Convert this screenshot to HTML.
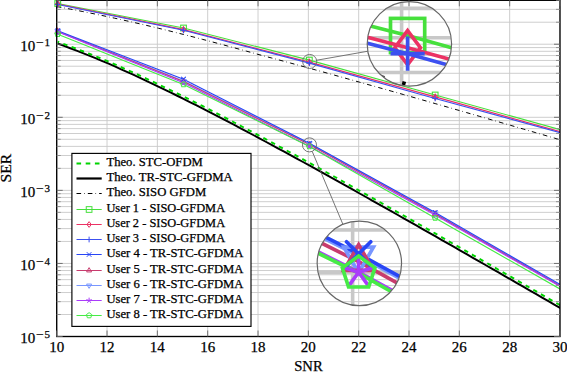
<!DOCTYPE html>
<html><head><meta charset="utf-8"><style>
html,body{margin:0;padding:0;background:#fff;}
svg{display:block;}
text{font-family:"Liberation Serif",serif;fill:#000;stroke:#000;stroke-width:0.25px;}
</style></head><body>
<svg width="567" height="372" viewBox="0 0 567 372">
<defs><g id="content_inset">
<line x1="56.70" y1="0.30" x2="56.70" y2="336.50" stroke="#c8c8c8" stroke-width="0.60"/>
<line x1="107.03" y1="0.30" x2="107.03" y2="336.50" stroke="#c8c8c8" stroke-width="0.60"/>
<line x1="157.36" y1="0.30" x2="157.36" y2="336.50" stroke="#c8c8c8" stroke-width="0.60"/>
<line x1="207.69" y1="0.30" x2="207.69" y2="336.50" stroke="#c8c8c8" stroke-width="0.60"/>
<line x1="258.02" y1="0.30" x2="258.02" y2="336.50" stroke="#c8c8c8" stroke-width="0.60"/>
<line x1="308.35" y1="0.30" x2="308.35" y2="336.50" stroke="#c8c8c8" stroke-width="0.60"/>
<line x1="358.68" y1="0.30" x2="358.68" y2="336.50" stroke="#c8c8c8" stroke-width="0.60"/>
<line x1="409.01" y1="0.30" x2="409.01" y2="336.50" stroke="#c8c8c8" stroke-width="0.60"/>
<line x1="459.34" y1="0.30" x2="459.34" y2="336.50" stroke="#c8c8c8" stroke-width="0.60"/>
<line x1="509.67" y1="0.30" x2="509.67" y2="336.50" stroke="#c8c8c8" stroke-width="0.60"/>
<line x1="560.00" y1="0.30" x2="560.00" y2="336.50" stroke="#c8c8c8" stroke-width="0.60"/>
<line x1="56.70" y1="336.51" x2="560.00" y2="336.51" stroke="#c8c8c8" stroke-width="0.60"/>
<line x1="56.70" y1="314.51" x2="560.00" y2="314.51" stroke="#c8c8c8" stroke-width="0.60"/>
<line x1="56.70" y1="301.65" x2="560.00" y2="301.65" stroke="#c8c8c8" stroke-width="0.60"/>
<line x1="56.70" y1="292.52" x2="560.00" y2="292.52" stroke="#c8c8c8" stroke-width="0.60"/>
<line x1="56.70" y1="285.44" x2="560.00" y2="285.44" stroke="#c8c8c8" stroke-width="0.60"/>
<line x1="56.70" y1="279.65" x2="560.00" y2="279.65" stroke="#c8c8c8" stroke-width="0.60"/>
<line x1="56.70" y1="274.76" x2="560.00" y2="274.76" stroke="#c8c8c8" stroke-width="0.60"/>
<line x1="56.70" y1="270.52" x2="560.00" y2="270.52" stroke="#c8c8c8" stroke-width="0.60"/>
<line x1="56.70" y1="266.78" x2="560.00" y2="266.78" stroke="#c8c8c8" stroke-width="0.60"/>
<line x1="56.70" y1="263.44" x2="560.00" y2="263.44" stroke="#c8c8c8" stroke-width="0.60"/>
<line x1="56.70" y1="241.44" x2="560.00" y2="241.44" stroke="#c8c8c8" stroke-width="0.60"/>
<line x1="56.70" y1="228.58" x2="560.00" y2="228.58" stroke="#c8c8c8" stroke-width="0.60"/>
<line x1="56.70" y1="219.45" x2="560.00" y2="219.45" stroke="#c8c8c8" stroke-width="0.60"/>
<line x1="56.70" y1="212.37" x2="560.00" y2="212.37" stroke="#c8c8c8" stroke-width="0.60"/>
<line x1="56.70" y1="206.58" x2="560.00" y2="206.58" stroke="#c8c8c8" stroke-width="0.60"/>
<line x1="56.70" y1="201.69" x2="560.00" y2="201.69" stroke="#c8c8c8" stroke-width="0.60"/>
<line x1="56.70" y1="197.45" x2="560.00" y2="197.45" stroke="#c8c8c8" stroke-width="0.60"/>
<line x1="56.70" y1="193.71" x2="560.00" y2="193.71" stroke="#c8c8c8" stroke-width="0.60"/>
<line x1="56.70" y1="190.37" x2="560.00" y2="190.37" stroke="#c8c8c8" stroke-width="0.60"/>
<line x1="56.70" y1="168.37" x2="560.00" y2="168.37" stroke="#c8c8c8" stroke-width="0.60"/>
<line x1="56.70" y1="155.51" x2="560.00" y2="155.51" stroke="#c8c8c8" stroke-width="0.60"/>
<line x1="56.70" y1="146.38" x2="560.00" y2="146.38" stroke="#c8c8c8" stroke-width="0.60"/>
<line x1="56.70" y1="139.30" x2="560.00" y2="139.30" stroke="#c8c8c8" stroke-width="0.60"/>
<line x1="56.70" y1="133.51" x2="560.00" y2="133.51" stroke="#c8c8c8" stroke-width="0.60"/>
<line x1="56.70" y1="128.62" x2="560.00" y2="128.62" stroke="#c8c8c8" stroke-width="0.60"/>
<line x1="56.70" y1="124.38" x2="560.00" y2="124.38" stroke="#c8c8c8" stroke-width="0.60"/>
<line x1="56.70" y1="120.64" x2="560.00" y2="120.64" stroke="#c8c8c8" stroke-width="0.60"/>
<line x1="56.70" y1="117.30" x2="560.00" y2="117.30" stroke="#c8c8c8" stroke-width="0.60"/>
<line x1="56.70" y1="95.30" x2="560.00" y2="95.30" stroke="#c8c8c8" stroke-width="0.60"/>
<line x1="56.70" y1="82.44" x2="560.00" y2="82.44" stroke="#c8c8c8" stroke-width="0.60"/>
<line x1="56.70" y1="73.31" x2="560.00" y2="73.31" stroke="#c8c8c8" stroke-width="0.60"/>
<line x1="56.70" y1="66.23" x2="560.00" y2="66.23" stroke="#c8c8c8" stroke-width="0.60"/>
<line x1="56.70" y1="60.44" x2="560.00" y2="60.44" stroke="#c8c8c8" stroke-width="0.60"/>
<line x1="56.70" y1="55.55" x2="560.00" y2="55.55" stroke="#c8c8c8" stroke-width="0.60"/>
<line x1="56.70" y1="51.31" x2="560.00" y2="51.31" stroke="#c8c8c8" stroke-width="0.60"/>
<line x1="56.70" y1="47.57" x2="560.00" y2="47.57" stroke="#c8c8c8" stroke-width="0.60"/>
<line x1="56.70" y1="44.23" x2="560.00" y2="44.23" stroke="#c8c8c8" stroke-width="0.60"/>
<line x1="56.70" y1="22.23" x2="560.00" y2="22.23" stroke="#c8c8c8" stroke-width="0.60"/>
<line x1="56.70" y1="9.37" x2="560.00" y2="9.37" stroke="#c8c8c8" stroke-width="0.60"/>
<line x1="56.70" y1="0.24" x2="560.00" y2="0.24" stroke="#c8c8c8" stroke-width="0.60"/>
<path d="M57.70,43.51 L63.99,45.85 L70.28,48.23 L76.57,50.66 L82.87,53.14 L89.16,55.66 L95.45,58.22 L101.74,60.82 L108.03,63.46 L114.32,66.22 L120.61,69.02 L126.90,71.85 L133.19,74.73 L139.49,77.63 L145.78,80.58 L152.07,83.55 L158.36,86.56 L164.65,89.59 L170.94,92.66 L177.23,95.75 L183.52,98.87 L189.82,102.02 L196.11,105.19 L202.40,108.39 L208.69,111.61 L214.98,114.86 L221.27,118.12 L227.56,121.41 L233.86,124.72 L240.15,128.05 L246.44,131.40 L252.73,134.76 L259.02,138.14 L265.31,141.51 L271.60,144.89 L277.89,148.29 L284.19,151.70 L290.48,155.12 L296.77,158.55 L303.06,162.00 L309.35,165.46 L315.64,168.93 L321.93,172.41 L328.22,175.90 L334.51,179.40 L340.81,182.91 L347.10,186.43 L353.39,189.95 L359.68,193.49 L365.97,197.01 L372.26,200.55 L378.55,204.09 L384.84,207.64 L391.14,211.19 L397.43,214.75 L403.72,218.31 L410.01,221.88 L416.30,225.45 L422.59,229.03 L428.88,232.61 L435.17,236.19 L441.47,239.78 L447.76,243.38 L454.05,246.97 L460.34,250.57 L466.63,254.17 L472.92,257.78 L479.21,261.39 L485.50,265.00 L491.80,268.61 L498.09,272.22 L504.38,275.84 L510.67,279.46 L516.96,283.08 L523.25,286.70 L529.54,290.33 L535.84,293.95 L542.13,297.58 L548.42,301.21 L554.71,304.84 L561.00,308.47" fill="none" stroke="#000" stroke-width="2.00"/>
<path d="M57.70,41.75 L63.99,44.05 L70.28,46.40 L76.57,48.79 L82.87,51.23 L89.16,53.72 L95.45,56.25 L101.74,58.82 L108.03,61.43 L114.32,64.16 L120.61,66.93 L126.90,69.73 L133.19,72.58 L139.49,75.46 L145.78,78.37 L152.07,81.32 L158.36,84.31 L164.65,87.32 L170.94,90.36 L177.23,93.43 L183.52,96.53 L189.82,99.65 L196.11,102.81 L202.40,105.99 L208.69,109.19 L214.98,112.42 L221.27,115.67 L227.56,118.94 L233.86,122.24 L240.15,125.55 L246.44,128.88 L252.73,132.23 L259.02,135.60 L265.31,138.96 L271.60,142.33 L277.89,145.71 L284.19,149.11 L290.48,152.53 L296.77,155.95 L303.06,159.39 L309.35,162.84 L315.64,166.30 L321.93,169.78 L328.22,173.26 L334.51,176.75 L340.81,180.25 L347.10,183.77 L353.39,187.28 L359.68,190.81 L365.97,194.33 L372.26,197.86 L378.55,201.40 L384.84,204.94 L391.14,208.49 L397.43,212.04 L403.72,215.60 L410.01,219.17 L416.30,222.74 L422.59,226.31 L428.88,229.89 L435.17,233.47 L441.47,237.06 L447.76,240.65 L454.05,244.24 L460.34,247.84 L466.63,251.44 L472.92,255.04 L479.21,258.64 L485.50,262.25 L491.80,265.86 L498.09,269.48 L504.38,273.09 L510.67,276.71 L516.96,280.33 L523.25,283.95 L529.54,287.57 L535.84,291.20 L542.13,294.82 L548.42,298.45 L554.71,302.08 L561.00,305.71" fill="none" stroke="#00d400" stroke-width="2.00" stroke-dasharray="4.425 4.425" stroke-dashoffset="2.89"/>
<path d="M57.70,6.72 L63.99,7.89 L70.28,9.09 L76.57,10.31 L82.87,11.55 L89.16,12.82 L95.45,14.11 L101.74,15.42 L108.03,16.76 L114.32,18.11 L120.61,19.49 L126.90,20.90 L133.19,22.32 L139.49,23.76 L145.78,25.23 L152.07,26.71 L158.36,28.21 L164.65,29.75 L170.94,31.30 L177.23,32.87 L183.52,34.46 L189.82,36.06 L196.11,37.68 L202.40,39.32 L208.69,40.97 L214.98,42.63 L221.27,44.31 L227.56,46.00 L233.86,47.71 L240.15,49.42 L246.44,51.15 L252.73,52.89 L259.02,54.64 L265.31,56.31 L271.60,57.98 L277.89,59.66 L284.19,61.35 L290.48,63.05 L296.77,64.76 L303.06,66.47 L309.35,68.20 L315.64,69.93 L321.93,71.66 L328.22,73.41 L334.51,75.16 L340.81,76.92 L347.10,78.68 L353.39,80.44 L359.68,82.22 L365.97,83.98 L372.26,85.74 L378.55,87.51 L384.84,89.28 L391.14,91.05 L397.43,92.83 L403.72,94.62 L410.01,96.40 L416.30,98.19 L422.59,99.98 L428.88,101.78 L435.17,103.58 L441.47,105.38 L447.76,107.18 L454.05,108.99 L460.34,110.80 L466.63,112.61 L472.92,114.43 L479.21,116.25 L485.50,118.07 L491.80,119.89 L498.09,121.72 L504.38,123.55 L510.67,125.37 L516.96,127.20 L523.25,129.03 L529.54,130.86 L535.84,132.70 L542.13,134.53 L548.42,136.36 L554.71,138.20 L561.00,140.04" fill="none" stroke="#000" stroke-width="0.61" stroke-dasharray="4.65 3.09 0.6 3.09" stroke-dashoffset="1.0"/>
<path d="M57.70,3.50 L183.52,28.00 L309.35,60.07 L435.17,95.00 L561.00,129.90" fill="none" stroke="#46e03c" stroke-width="0.61"/>
<rect x="54.85" y="0.65" width="5.70" height="5.70" fill="none" stroke="#46e03c" stroke-width="0.61"/>
<rect x="180.67" y="25.15" width="5.70" height="5.70" fill="none" stroke="#46e03c" stroke-width="0.61"/>
<rect x="306.50" y="57.22" width="5.70" height="5.70" fill="none" stroke="#46e03c" stroke-width="0.61"/>
<rect x="432.32" y="92.15" width="5.70" height="5.70" fill="none" stroke="#46e03c" stroke-width="0.61"/>
<path d="M57.70,4.00 L183.52,29.60 L309.35,62.10 L435.17,96.90 L561.00,131.90" fill="none" stroke="#eb3264" stroke-width="0.61"/>
<path d="M57.70,1.15 L59.84,4.00 L57.70,6.85 L55.56,4.00 Z" fill="none" stroke="#eb3264" stroke-width="0.61"/>
<path d="M183.52,26.75 L185.66,29.60 L183.52,32.45 L181.39,29.60 Z" fill="none" stroke="#eb3264" stroke-width="0.61"/>
<path d="M309.35,59.25 L311.49,62.10 L309.35,64.95 L307.21,62.10 Z" fill="none" stroke="#eb3264" stroke-width="0.61"/>
<path d="M435.17,94.05 L437.31,96.90 L435.17,99.75 L433.04,96.90 Z" fill="none" stroke="#eb3264" stroke-width="0.61"/>
<path d="M57.70,4.50 L183.52,30.30 L309.35,63.10 L435.17,98.50 L561.00,132.90" fill="none" stroke="#3c50f0" stroke-width="0.61"/>
<path d="M54.85,4.50 L60.55,4.50 M57.70,1.65 L57.70,7.35" fill="none" stroke="#3c50f0" stroke-width="0.61"/>
<path d="M180.67,30.30 L186.37,30.30 M183.52,27.45 L183.52,33.15" fill="none" stroke="#3c50f0" stroke-width="0.61"/>
<path d="M306.50,63.10 L312.20,63.10 M309.35,60.25 L309.35,65.95" fill="none" stroke="#3c50f0" stroke-width="0.61"/>
<path d="M432.32,98.50 L438.02,98.50 M435.17,95.65 L435.17,101.35" fill="none" stroke="#3c50f0" stroke-width="0.61"/>
<path d="M57.70,31.20 L183.52,81.00 L309.35,143.60 L435.17,213.40 L561.00,285.90" fill="none" stroke="#7896ff" stroke-width="0.61"/>
<path d="M57.70,31.50 L183.52,81.50 L309.35,144.60 L435.17,214.00 L561.00,286.50" fill="none" stroke="#c83c6e" stroke-width="0.61"/>
<path d="M57.70,30.80 L183.52,79.20 L309.35,143.30 L435.17,212.50 L561.00,285.00" fill="none" stroke="#2846f5" stroke-width="0.61"/>
<path d="M57.70,31.80 L183.52,82.80 L309.35,146.35 L435.17,215.00 L561.00,287.00" fill="none" stroke="#aa3cfa" stroke-width="0.61"/>
<path d="M57.70,34.20 L183.52,84.50 L309.35,146.50 L435.17,218.00 L561.00,289.60" fill="none" stroke="#46eb46" stroke-width="0.61"/>
<path d="M57.70,34.05 L60.17,29.77 L55.23,29.77 Z" fill="none" stroke="#7896ff" stroke-width="0.61"/>
<path d="M183.52,83.85 L185.99,79.58 L181.06,79.58 Z" fill="none" stroke="#7896ff" stroke-width="0.61"/>
<path d="M309.35,146.45 L311.82,142.17 L306.88,142.17 Z" fill="none" stroke="#7896ff" stroke-width="0.61"/>
<path d="M435.17,216.25 L437.64,211.97 L432.71,211.97 Z" fill="none" stroke="#7896ff" stroke-width="0.61"/>
<path d="M57.70,28.65 L60.17,32.92 L55.23,32.92 Z" fill="none" stroke="#c83c6e" stroke-width="0.61"/>
<path d="M183.52,78.65 L185.99,82.92 L181.06,82.92 Z" fill="none" stroke="#c83c6e" stroke-width="0.61"/>
<path d="M309.35,141.75 L311.82,146.03 L306.88,146.03 Z" fill="none" stroke="#c83c6e" stroke-width="0.61"/>
<path d="M435.17,211.15 L437.64,215.43 L432.71,215.43 Z" fill="none" stroke="#c83c6e" stroke-width="0.61"/>
<path d="M55.68,28.78 L59.72,32.82 M55.68,32.82 L59.72,28.78" stroke-linecap="round" fill="none" stroke="#2846f5" stroke-width="0.61"/>
<path d="M181.51,77.18 L185.54,81.22 M181.51,81.22 L185.54,77.18" stroke-linecap="round" fill="none" stroke="#2846f5" stroke-width="0.61"/>
<path d="M307.33,141.28 L311.37,145.32 M307.33,145.32 L311.37,141.28" stroke-linecap="round" fill="none" stroke="#2846f5" stroke-width="0.61"/>
<path d="M433.16,210.48 L437.19,214.52 M433.16,214.52 L437.19,210.48" stroke-linecap="round" fill="none" stroke="#2846f5" stroke-width="0.61"/>
<path d="M57.70,31.80 L57.70,28.95 M57.70,31.80 L60.41,30.92 M57.70,31.80 L59.38,34.11 M57.70,31.80 L56.02,34.11 M57.70,31.80 L54.99,30.92 " fill="none" stroke="#aa3cfa" stroke-width="0.61"/>
<path d="M183.52,82.80 L183.52,79.95 M183.52,82.80 L186.24,81.92 M183.52,82.80 L185.20,85.11 M183.52,82.80 L181.85,85.11 M183.52,82.80 L180.81,81.92 " fill="none" stroke="#aa3cfa" stroke-width="0.61"/>
<path d="M309.35,146.35 L309.35,143.50 M309.35,146.35 L312.06,145.47 M309.35,146.35 L311.03,148.66 M309.35,146.35 L307.67,148.66 M309.35,146.35 L306.64,145.47 " fill="none" stroke="#aa3cfa" stroke-width="0.61"/>
<path d="M435.17,215.00 L435.17,212.15 M435.17,215.00 L437.89,214.12 M435.17,215.00 L436.85,217.31 M435.17,215.00 L433.50,217.31 M435.17,215.00 L432.46,214.12 " fill="none" stroke="#aa3cfa" stroke-width="0.61"/>
<path d="M57.70,31.35 L60.41,33.32 L59.38,36.51 L56.02,36.51 L54.99,33.32 Z" fill="none" stroke="#46eb46" stroke-width="0.61"/>
<path d="M183.52,81.65 L186.24,83.62 L185.20,86.81 L181.85,86.81 L180.81,83.62 Z" fill="none" stroke="#46eb46" stroke-width="0.61"/>
<path d="M309.35,143.65 L312.06,145.62 L311.03,148.81 L307.67,148.81 L306.64,145.62 Z" fill="none" stroke="#46eb46" stroke-width="0.61"/>
<path d="M435.17,215.15 L437.89,217.12 L436.85,220.31 L433.50,220.31 L432.46,217.12 Z" fill="none" stroke="#46eb46" stroke-width="0.61"/>
</g><clipPath id="plotclip"><rect x="56.70" y="0.30" width="503.30" height="336.20"/></clipPath></defs>
<rect width="567" height="372" fill="#fff"/>
<g clip-path="url(#plotclip)">
<g id="content">
<line x1="56.70" y1="0.30" x2="56.70" y2="336.50" stroke="#c8c8c8" stroke-width="0.90"/>
<line x1="107.03" y1="0.30" x2="107.03" y2="336.50" stroke="#c8c8c8" stroke-width="0.90"/>
<line x1="157.36" y1="0.30" x2="157.36" y2="336.50" stroke="#c8c8c8" stroke-width="0.90"/>
<line x1="207.69" y1="0.30" x2="207.69" y2="336.50" stroke="#c8c8c8" stroke-width="0.90"/>
<line x1="258.02" y1="0.30" x2="258.02" y2="336.50" stroke="#c8c8c8" stroke-width="0.90"/>
<line x1="308.35" y1="0.30" x2="308.35" y2="336.50" stroke="#c8c8c8" stroke-width="0.90"/>
<line x1="358.68" y1="0.30" x2="358.68" y2="336.50" stroke="#c8c8c8" stroke-width="0.90"/>
<line x1="409.01" y1="0.30" x2="409.01" y2="336.50" stroke="#c8c8c8" stroke-width="0.90"/>
<line x1="459.34" y1="0.30" x2="459.34" y2="336.50" stroke="#c8c8c8" stroke-width="0.90"/>
<line x1="509.67" y1="0.30" x2="509.67" y2="336.50" stroke="#c8c8c8" stroke-width="0.90"/>
<line x1="560.00" y1="0.30" x2="560.00" y2="336.50" stroke="#c8c8c8" stroke-width="0.90"/>
<line x1="56.70" y1="336.51" x2="560.00" y2="336.51" stroke="#c8c8c8" stroke-width="0.90"/>
<line x1="56.70" y1="314.51" x2="560.00" y2="314.51" stroke="#c8c8c8" stroke-width="0.90"/>
<line x1="56.70" y1="301.65" x2="560.00" y2="301.65" stroke="#c8c8c8" stroke-width="0.90"/>
<line x1="56.70" y1="292.52" x2="560.00" y2="292.52" stroke="#c8c8c8" stroke-width="0.90"/>
<line x1="56.70" y1="285.44" x2="560.00" y2="285.44" stroke="#c8c8c8" stroke-width="0.90"/>
<line x1="56.70" y1="279.65" x2="560.00" y2="279.65" stroke="#c8c8c8" stroke-width="0.90"/>
<line x1="56.70" y1="274.76" x2="560.00" y2="274.76" stroke="#c8c8c8" stroke-width="0.90"/>
<line x1="56.70" y1="270.52" x2="560.00" y2="270.52" stroke="#c8c8c8" stroke-width="0.90"/>
<line x1="56.70" y1="266.78" x2="560.00" y2="266.78" stroke="#c8c8c8" stroke-width="0.90"/>
<line x1="56.70" y1="263.44" x2="560.00" y2="263.44" stroke="#c8c8c8" stroke-width="0.90"/>
<line x1="56.70" y1="241.44" x2="560.00" y2="241.44" stroke="#c8c8c8" stroke-width="0.90"/>
<line x1="56.70" y1="228.58" x2="560.00" y2="228.58" stroke="#c8c8c8" stroke-width="0.90"/>
<line x1="56.70" y1="219.45" x2="560.00" y2="219.45" stroke="#c8c8c8" stroke-width="0.90"/>
<line x1="56.70" y1="212.37" x2="560.00" y2="212.37" stroke="#c8c8c8" stroke-width="0.90"/>
<line x1="56.70" y1="206.58" x2="560.00" y2="206.58" stroke="#c8c8c8" stroke-width="0.90"/>
<line x1="56.70" y1="201.69" x2="560.00" y2="201.69" stroke="#c8c8c8" stroke-width="0.90"/>
<line x1="56.70" y1="197.45" x2="560.00" y2="197.45" stroke="#c8c8c8" stroke-width="0.90"/>
<line x1="56.70" y1="193.71" x2="560.00" y2="193.71" stroke="#c8c8c8" stroke-width="0.90"/>
<line x1="56.70" y1="190.37" x2="560.00" y2="190.37" stroke="#c8c8c8" stroke-width="0.90"/>
<line x1="56.70" y1="168.37" x2="560.00" y2="168.37" stroke="#c8c8c8" stroke-width="0.90"/>
<line x1="56.70" y1="155.51" x2="560.00" y2="155.51" stroke="#c8c8c8" stroke-width="0.90"/>
<line x1="56.70" y1="146.38" x2="560.00" y2="146.38" stroke="#c8c8c8" stroke-width="0.90"/>
<line x1="56.70" y1="139.30" x2="560.00" y2="139.30" stroke="#c8c8c8" stroke-width="0.90"/>
<line x1="56.70" y1="133.51" x2="560.00" y2="133.51" stroke="#c8c8c8" stroke-width="0.90"/>
<line x1="56.70" y1="128.62" x2="560.00" y2="128.62" stroke="#c8c8c8" stroke-width="0.90"/>
<line x1="56.70" y1="124.38" x2="560.00" y2="124.38" stroke="#c8c8c8" stroke-width="0.90"/>
<line x1="56.70" y1="120.64" x2="560.00" y2="120.64" stroke="#c8c8c8" stroke-width="0.90"/>
<line x1="56.70" y1="117.30" x2="560.00" y2="117.30" stroke="#c8c8c8" stroke-width="0.90"/>
<line x1="56.70" y1="95.30" x2="560.00" y2="95.30" stroke="#c8c8c8" stroke-width="0.90"/>
<line x1="56.70" y1="82.44" x2="560.00" y2="82.44" stroke="#c8c8c8" stroke-width="0.90"/>
<line x1="56.70" y1="73.31" x2="560.00" y2="73.31" stroke="#c8c8c8" stroke-width="0.90"/>
<line x1="56.70" y1="66.23" x2="560.00" y2="66.23" stroke="#c8c8c8" stroke-width="0.90"/>
<line x1="56.70" y1="60.44" x2="560.00" y2="60.44" stroke="#c8c8c8" stroke-width="0.90"/>
<line x1="56.70" y1="55.55" x2="560.00" y2="55.55" stroke="#c8c8c8" stroke-width="0.90"/>
<line x1="56.70" y1="51.31" x2="560.00" y2="51.31" stroke="#c8c8c8" stroke-width="0.90"/>
<line x1="56.70" y1="47.57" x2="560.00" y2="47.57" stroke="#c8c8c8" stroke-width="0.90"/>
<line x1="56.70" y1="44.23" x2="560.00" y2="44.23" stroke="#c8c8c8" stroke-width="0.90"/>
<line x1="56.70" y1="22.23" x2="560.00" y2="22.23" stroke="#c8c8c8" stroke-width="0.90"/>
<line x1="56.70" y1="9.37" x2="560.00" y2="9.37" stroke="#c8c8c8" stroke-width="0.90"/>
<line x1="56.70" y1="0.24" x2="560.00" y2="0.24" stroke="#c8c8c8" stroke-width="0.90"/>
<path d="M57.70,43.51 L63.99,45.85 L70.28,48.23 L76.57,50.66 L82.87,53.14 L89.16,55.66 L95.45,58.22 L101.74,60.82 L108.03,63.46 L114.32,66.22 L120.61,69.02 L126.90,71.85 L133.19,74.73 L139.49,77.63 L145.78,80.58 L152.07,83.55 L158.36,86.56 L164.65,89.59 L170.94,92.66 L177.23,95.75 L183.52,98.87 L189.82,102.02 L196.11,105.19 L202.40,108.39 L208.69,111.61 L214.98,114.86 L221.27,118.12 L227.56,121.41 L233.86,124.72 L240.15,128.05 L246.44,131.40 L252.73,134.76 L259.02,138.14 L265.31,141.51 L271.60,144.89 L277.89,148.29 L284.19,151.70 L290.48,155.12 L296.77,158.55 L303.06,162.00 L309.35,165.46 L315.64,168.93 L321.93,172.41 L328.22,175.90 L334.51,179.40 L340.81,182.91 L347.10,186.43 L353.39,189.95 L359.68,193.49 L365.97,197.01 L372.26,200.55 L378.55,204.09 L384.84,207.64 L391.14,211.19 L397.43,214.75 L403.72,218.31 L410.01,221.88 L416.30,225.45 L422.59,229.03 L428.88,232.61 L435.17,236.19 L441.47,239.78 L447.76,243.38 L454.05,246.97 L460.34,250.57 L466.63,254.17 L472.92,257.78 L479.21,261.39 L485.50,265.00 L491.80,268.61 L498.09,272.22 L504.38,275.84 L510.67,279.46 L516.96,283.08 L523.25,286.70 L529.54,290.33 L535.84,293.95 L542.13,297.58 L548.42,301.21 L554.71,304.84 L561.00,308.47" fill="none" stroke="#000" stroke-width="1.95"/>
<path d="M57.70,41.75 L63.99,44.05 L70.28,46.40 L76.57,48.79 L82.87,51.23 L89.16,53.72 L95.45,56.25 L101.74,58.82 L108.03,61.43 L114.32,64.16 L120.61,66.93 L126.90,69.73 L133.19,72.58 L139.49,75.46 L145.78,78.37 L152.07,81.32 L158.36,84.31 L164.65,87.32 L170.94,90.36 L177.23,93.43 L183.52,96.53 L189.82,99.65 L196.11,102.81 L202.40,105.99 L208.69,109.19 L214.98,112.42 L221.27,115.67 L227.56,118.94 L233.86,122.24 L240.15,125.55 L246.44,128.88 L252.73,132.23 L259.02,135.60 L265.31,138.96 L271.60,142.33 L277.89,145.71 L284.19,149.11 L290.48,152.53 L296.77,155.95 L303.06,159.39 L309.35,162.84 L315.64,166.30 L321.93,169.78 L328.22,173.26 L334.51,176.75 L340.81,180.25 L347.10,183.77 L353.39,187.28 L359.68,190.81 L365.97,194.33 L372.26,197.86 L378.55,201.40 L384.84,204.94 L391.14,208.49 L397.43,212.04 L403.72,215.60 L410.01,219.17 L416.30,222.74 L422.59,226.31 L428.88,229.89 L435.17,233.47 L441.47,237.06 L447.76,240.65 L454.05,244.24 L460.34,247.84 L466.63,251.44 L472.92,255.04 L479.21,258.64 L485.50,262.25 L491.80,265.86 L498.09,269.48 L504.38,273.09 L510.67,276.71 L516.96,280.33 L523.25,283.95 L529.54,287.57 L535.84,291.20 L542.13,294.82 L548.42,298.45 L554.71,302.08 L561.00,305.71" fill="none" stroke="#00d400" stroke-width="1.95" stroke-dasharray="4.425 4.425" stroke-dashoffset="2.89"/>
<path d="M57.70,6.72 L63.99,7.89 L70.28,9.09 L76.57,10.31 L82.87,11.55 L89.16,12.82 L95.45,14.11 L101.74,15.42 L108.03,16.76 L114.32,18.11 L120.61,19.49 L126.90,20.90 L133.19,22.32 L139.49,23.76 L145.78,25.23 L152.07,26.71 L158.36,28.21 L164.65,29.75 L170.94,31.30 L177.23,32.87 L183.52,34.46 L189.82,36.06 L196.11,37.68 L202.40,39.32 L208.69,40.97 L214.98,42.63 L221.27,44.31 L227.56,46.00 L233.86,47.71 L240.15,49.42 L246.44,51.15 L252.73,52.89 L259.02,54.64 L265.31,56.31 L271.60,57.98 L277.89,59.66 L284.19,61.35 L290.48,63.05 L296.77,64.76 L303.06,66.47 L309.35,68.20 L315.64,69.93 L321.93,71.66 L328.22,73.41 L334.51,75.16 L340.81,76.92 L347.10,78.68 L353.39,80.44 L359.68,82.22 L365.97,83.98 L372.26,85.74 L378.55,87.51 L384.84,89.28 L391.14,91.05 L397.43,92.83 L403.72,94.62 L410.01,96.40 L416.30,98.19 L422.59,99.98 L428.88,101.78 L435.17,103.58 L441.47,105.38 L447.76,107.18 L454.05,108.99 L460.34,110.80 L466.63,112.61 L472.92,114.43 L479.21,116.25 L485.50,118.07 L491.80,119.89 L498.09,121.72 L504.38,123.55 L510.67,125.37 L516.96,127.20 L523.25,129.03 L529.54,130.86 L535.84,132.70 L542.13,134.53 L548.42,136.36 L554.71,138.20 L561.00,140.04" fill="none" stroke="#000" stroke-width="1.00" stroke-dasharray="4.65 3.09 0.6 3.09" stroke-dashoffset="1.0"/>
<path d="M57.70,3.50 L183.52,28.00 L309.35,60.07 L435.17,95.00 L561.00,129.90" fill="none" stroke="#46e03c" stroke-width="1.15"/>
<rect x="54.85" y="0.65" width="5.70" height="5.70" fill="none" stroke="#46e03c" stroke-width="1.10"/>
<rect x="180.67" y="25.15" width="5.70" height="5.70" fill="none" stroke="#46e03c" stroke-width="1.10"/>
<rect x="306.50" y="57.22" width="5.70" height="5.70" fill="none" stroke="#46e03c" stroke-width="1.10"/>
<rect x="432.32" y="92.15" width="5.70" height="5.70" fill="none" stroke="#46e03c" stroke-width="1.10"/>
<path d="M57.70,4.00 L183.52,29.60 L309.35,62.10 L435.17,96.90 L561.00,131.90" fill="none" stroke="#eb3264" stroke-width="1.15"/>
<path d="M57.70,1.15 L59.84,4.00 L57.70,6.85 L55.56,4.00 Z" fill="none" stroke="#eb3264" stroke-width="1.10"/>
<path d="M183.52,26.75 L185.66,29.60 L183.52,32.45 L181.39,29.60 Z" fill="none" stroke="#eb3264" stroke-width="1.10"/>
<path d="M309.35,59.25 L311.49,62.10 L309.35,64.95 L307.21,62.10 Z" fill="none" stroke="#eb3264" stroke-width="1.10"/>
<path d="M435.17,94.05 L437.31,96.90 L435.17,99.75 L433.04,96.90 Z" fill="none" stroke="#eb3264" stroke-width="1.10"/>
<path d="M57.70,4.50 L183.52,30.30 L309.35,63.10 L435.17,98.50 L561.00,132.90" fill="none" stroke="#3c50f0" stroke-width="1.15"/>
<path d="M54.85,4.50 L60.55,4.50 M57.70,1.65 L57.70,7.35" fill="none" stroke="#3c50f0" stroke-width="1.10"/>
<path d="M180.67,30.30 L186.37,30.30 M183.52,27.45 L183.52,33.15" fill="none" stroke="#3c50f0" stroke-width="1.10"/>
<path d="M306.50,63.10 L312.20,63.10 M309.35,60.25 L309.35,65.95" fill="none" stroke="#3c50f0" stroke-width="1.10"/>
<path d="M432.32,98.50 L438.02,98.50 M435.17,95.65 L435.17,101.35" fill="none" stroke="#3c50f0" stroke-width="1.10"/>
<path d="M57.70,31.20 L183.52,81.00 L309.35,143.60 L435.17,213.40 L561.00,285.90" fill="none" stroke="#7896ff" stroke-width="1.15"/>
<path d="M57.70,31.50 L183.52,81.50 L309.35,144.60 L435.17,214.00 L561.00,286.50" fill="none" stroke="#c83c6e" stroke-width="1.15"/>
<path d="M57.70,30.80 L183.52,79.20 L309.35,143.30 L435.17,212.50 L561.00,285.00" fill="none" stroke="#2846f5" stroke-width="1.15"/>
<path d="M57.70,31.80 L183.52,82.80 L309.35,146.35 L435.17,215.00 L561.00,287.00" fill="none" stroke="#aa3cfa" stroke-width="1.15"/>
<path d="M57.70,34.20 L183.52,84.50 L309.35,146.50 L435.17,218.00 L561.00,289.60" fill="none" stroke="#46eb46" stroke-width="1.15"/>
<path d="M57.70,34.05 L60.17,29.77 L55.23,29.77 Z" fill="none" stroke="#7896ff" stroke-width="1.10"/>
<path d="M183.52,83.85 L185.99,79.58 L181.06,79.58 Z" fill="none" stroke="#7896ff" stroke-width="1.10"/>
<path d="M309.35,146.45 L311.82,142.17 L306.88,142.17 Z" fill="none" stroke="#7896ff" stroke-width="1.10"/>
<path d="M435.17,216.25 L437.64,211.97 L432.71,211.97 Z" fill="none" stroke="#7896ff" stroke-width="1.10"/>
<path d="M57.70,28.65 L60.17,32.92 L55.23,32.92 Z" fill="none" stroke="#c83c6e" stroke-width="1.10"/>
<path d="M183.52,78.65 L185.99,82.92 L181.06,82.92 Z" fill="none" stroke="#c83c6e" stroke-width="1.10"/>
<path d="M309.35,141.75 L311.82,146.03 L306.88,146.03 Z" fill="none" stroke="#c83c6e" stroke-width="1.10"/>
<path d="M435.17,211.15 L437.64,215.43 L432.71,215.43 Z" fill="none" stroke="#c83c6e" stroke-width="1.10"/>
<path d="M55.68,28.78 L59.72,32.82 M55.68,32.82 L59.72,28.78" stroke-linecap="round" fill="none" stroke="#2846f5" stroke-width="1.10"/>
<path d="M181.51,77.18 L185.54,81.22 M181.51,81.22 L185.54,77.18" stroke-linecap="round" fill="none" stroke="#2846f5" stroke-width="1.10"/>
<path d="M307.33,141.28 L311.37,145.32 M307.33,145.32 L311.37,141.28" stroke-linecap="round" fill="none" stroke="#2846f5" stroke-width="1.10"/>
<path d="M433.16,210.48 L437.19,214.52 M433.16,214.52 L437.19,210.48" stroke-linecap="round" fill="none" stroke="#2846f5" stroke-width="1.10"/>
<path d="M57.70,31.80 L57.70,28.95 M57.70,31.80 L60.41,30.92 M57.70,31.80 L59.38,34.11 M57.70,31.80 L56.02,34.11 M57.70,31.80 L54.99,30.92 " fill="none" stroke="#aa3cfa" stroke-width="1.10"/>
<path d="M183.52,82.80 L183.52,79.95 M183.52,82.80 L186.24,81.92 M183.52,82.80 L185.20,85.11 M183.52,82.80 L181.85,85.11 M183.52,82.80 L180.81,81.92 " fill="none" stroke="#aa3cfa" stroke-width="1.10"/>
<path d="M309.35,146.35 L309.35,143.50 M309.35,146.35 L312.06,145.47 M309.35,146.35 L311.03,148.66 M309.35,146.35 L307.67,148.66 M309.35,146.35 L306.64,145.47 " fill="none" stroke="#aa3cfa" stroke-width="1.10"/>
<path d="M435.17,215.00 L435.17,212.15 M435.17,215.00 L437.89,214.12 M435.17,215.00 L436.85,217.31 M435.17,215.00 L433.50,217.31 M435.17,215.00 L432.46,214.12 " fill="none" stroke="#aa3cfa" stroke-width="1.10"/>
<path d="M57.70,31.35 L60.41,33.32 L59.38,36.51 L56.02,36.51 L54.99,33.32 Z" fill="none" stroke="#46eb46" stroke-width="1.10"/>
<path d="M183.52,81.65 L186.24,83.62 L185.20,86.81 L181.85,86.81 L180.81,83.62 Z" fill="none" stroke="#46eb46" stroke-width="1.10"/>
<path d="M309.35,143.65 L312.06,145.62 L311.03,148.81 L307.67,148.81 L306.64,145.62 Z" fill="none" stroke="#46eb46" stroke-width="1.10"/>
<path d="M435.17,215.15 L437.89,217.12 L436.85,220.31 L433.50,220.31 L432.46,217.12 Z" fill="none" stroke="#46eb46" stroke-width="1.10"/>
</g>
</g>
<g><rect x="54.85" y="0.65" width="5.70" height="5.70" fill="none" stroke="#46e03c" stroke-width="1.10"/>
<path d="M57.70,1.15 L59.84,4.00 L57.70,6.85 L55.56,4.00 Z" fill="none" stroke="#eb3264" stroke-width="1.10"/>
<path d="M54.85,4.50 L60.55,4.50 M57.70,1.65 L57.70,7.35" fill="none" stroke="#3c50f0" stroke-width="1.10"/>
<path d="M57.70,34.05 L60.17,29.77 L55.23,29.77 Z" fill="none" stroke="#7896ff" stroke-width="1.10"/>
<path d="M57.70,28.65 L60.17,32.92 L55.23,32.92 Z" fill="none" stroke="#c83c6e" stroke-width="1.10"/>
<path d="M55.68,28.78 L59.72,32.82 M55.68,32.82 L59.72,28.78" stroke-linecap="round" fill="none" stroke="#2846f5" stroke-width="1.10"/>
<path d="M57.70,31.80 L57.70,28.95 M57.70,31.80 L60.41,30.92 M57.70,31.80 L59.38,34.11 M57.70,31.80 L56.02,34.11 M57.70,31.80 L54.99,30.92 " fill="none" stroke="#aa3cfa" stroke-width="1.10"/>
<path d="M57.70,31.35 L60.41,33.32 L59.38,36.51 L56.02,36.51 L54.99,33.32 Z" fill="none" stroke="#46eb46" stroke-width="1.10"/>
</g>
<rect x="56.70" y="0.30" width="503.30" height="336.20" fill="none" stroke="#000" stroke-width="1.35"/>
<line x1="56.70" y1="336.50" x2="56.70" y2="330.50" stroke="#666" stroke-width="0.9"/>
<line x1="56.70" y1="0.30" x2="56.70" y2="6.30" stroke="#666" stroke-width="0.9"/>
<line x1="107.03" y1="336.50" x2="107.03" y2="330.50" stroke="#666" stroke-width="0.9"/>
<line x1="107.03" y1="0.30" x2="107.03" y2="6.30" stroke="#666" stroke-width="0.9"/>
<line x1="157.36" y1="336.50" x2="157.36" y2="330.50" stroke="#666" stroke-width="0.9"/>
<line x1="157.36" y1="0.30" x2="157.36" y2="6.30" stroke="#666" stroke-width="0.9"/>
<line x1="207.69" y1="336.50" x2="207.69" y2="330.50" stroke="#666" stroke-width="0.9"/>
<line x1="207.69" y1="0.30" x2="207.69" y2="6.30" stroke="#666" stroke-width="0.9"/>
<line x1="258.02" y1="336.50" x2="258.02" y2="330.50" stroke="#666" stroke-width="0.9"/>
<line x1="258.02" y1="0.30" x2="258.02" y2="6.30" stroke="#666" stroke-width="0.9"/>
<line x1="308.35" y1="336.50" x2="308.35" y2="330.50" stroke="#666" stroke-width="0.9"/>
<line x1="308.35" y1="0.30" x2="308.35" y2="6.30" stroke="#666" stroke-width="0.9"/>
<line x1="358.68" y1="336.50" x2="358.68" y2="330.50" stroke="#666" stroke-width="0.9"/>
<line x1="358.68" y1="0.30" x2="358.68" y2="6.30" stroke="#666" stroke-width="0.9"/>
<line x1="409.01" y1="336.50" x2="409.01" y2="330.50" stroke="#666" stroke-width="0.9"/>
<line x1="409.01" y1="0.30" x2="409.01" y2="6.30" stroke="#666" stroke-width="0.9"/>
<line x1="459.34" y1="336.50" x2="459.34" y2="330.50" stroke="#666" stroke-width="0.9"/>
<line x1="459.34" y1="0.30" x2="459.34" y2="6.30" stroke="#666" stroke-width="0.9"/>
<line x1="509.67" y1="336.50" x2="509.67" y2="330.50" stroke="#666" stroke-width="0.9"/>
<line x1="509.67" y1="0.30" x2="509.67" y2="6.30" stroke="#666" stroke-width="0.9"/>
<line x1="560.00" y1="336.50" x2="560.00" y2="330.50" stroke="#666" stroke-width="0.9"/>
<line x1="560.00" y1="0.30" x2="560.00" y2="6.30" stroke="#666" stroke-width="0.9"/>
<line x1="56.70" y1="336.51" x2="62.70" y2="336.51" stroke="#666" stroke-width="0.9"/>
<line x1="560.00" y1="336.51" x2="554.00" y2="336.51" stroke="#666" stroke-width="0.9"/>
<line x1="56.70" y1="314.51" x2="60.70" y2="314.51" stroke="#8a8a8a" stroke-width="0.9"/>
<line x1="560.00" y1="314.51" x2="556.00" y2="314.51" stroke="#8a8a8a" stroke-width="0.9"/>
<line x1="56.70" y1="301.65" x2="60.70" y2="301.65" stroke="#8a8a8a" stroke-width="0.9"/>
<line x1="560.00" y1="301.65" x2="556.00" y2="301.65" stroke="#8a8a8a" stroke-width="0.9"/>
<line x1="56.70" y1="292.52" x2="60.70" y2="292.52" stroke="#8a8a8a" stroke-width="0.9"/>
<line x1="560.00" y1="292.52" x2="556.00" y2="292.52" stroke="#8a8a8a" stroke-width="0.9"/>
<line x1="56.70" y1="285.44" x2="60.70" y2="285.44" stroke="#8a8a8a" stroke-width="0.9"/>
<line x1="560.00" y1="285.44" x2="556.00" y2="285.44" stroke="#8a8a8a" stroke-width="0.9"/>
<line x1="56.70" y1="279.65" x2="60.70" y2="279.65" stroke="#8a8a8a" stroke-width="0.9"/>
<line x1="560.00" y1="279.65" x2="556.00" y2="279.65" stroke="#8a8a8a" stroke-width="0.9"/>
<line x1="56.70" y1="274.76" x2="60.70" y2="274.76" stroke="#8a8a8a" stroke-width="0.9"/>
<line x1="560.00" y1="274.76" x2="556.00" y2="274.76" stroke="#8a8a8a" stroke-width="0.9"/>
<line x1="56.70" y1="270.52" x2="60.70" y2="270.52" stroke="#8a8a8a" stroke-width="0.9"/>
<line x1="560.00" y1="270.52" x2="556.00" y2="270.52" stroke="#8a8a8a" stroke-width="0.9"/>
<line x1="56.70" y1="266.78" x2="60.70" y2="266.78" stroke="#8a8a8a" stroke-width="0.9"/>
<line x1="560.00" y1="266.78" x2="556.00" y2="266.78" stroke="#8a8a8a" stroke-width="0.9"/>
<line x1="56.70" y1="263.44" x2="62.70" y2="263.44" stroke="#666" stroke-width="0.9"/>
<line x1="560.00" y1="263.44" x2="554.00" y2="263.44" stroke="#666" stroke-width="0.9"/>
<line x1="56.70" y1="241.44" x2="60.70" y2="241.44" stroke="#8a8a8a" stroke-width="0.9"/>
<line x1="560.00" y1="241.44" x2="556.00" y2="241.44" stroke="#8a8a8a" stroke-width="0.9"/>
<line x1="56.70" y1="228.58" x2="60.70" y2="228.58" stroke="#8a8a8a" stroke-width="0.9"/>
<line x1="560.00" y1="228.58" x2="556.00" y2="228.58" stroke="#8a8a8a" stroke-width="0.9"/>
<line x1="56.70" y1="219.45" x2="60.70" y2="219.45" stroke="#8a8a8a" stroke-width="0.9"/>
<line x1="560.00" y1="219.45" x2="556.00" y2="219.45" stroke="#8a8a8a" stroke-width="0.9"/>
<line x1="56.70" y1="212.37" x2="60.70" y2="212.37" stroke="#8a8a8a" stroke-width="0.9"/>
<line x1="560.00" y1="212.37" x2="556.00" y2="212.37" stroke="#8a8a8a" stroke-width="0.9"/>
<line x1="56.70" y1="206.58" x2="60.70" y2="206.58" stroke="#8a8a8a" stroke-width="0.9"/>
<line x1="560.00" y1="206.58" x2="556.00" y2="206.58" stroke="#8a8a8a" stroke-width="0.9"/>
<line x1="56.70" y1="201.69" x2="60.70" y2="201.69" stroke="#8a8a8a" stroke-width="0.9"/>
<line x1="560.00" y1="201.69" x2="556.00" y2="201.69" stroke="#8a8a8a" stroke-width="0.9"/>
<line x1="56.70" y1="197.45" x2="60.70" y2="197.45" stroke="#8a8a8a" stroke-width="0.9"/>
<line x1="560.00" y1="197.45" x2="556.00" y2="197.45" stroke="#8a8a8a" stroke-width="0.9"/>
<line x1="56.70" y1="193.71" x2="60.70" y2="193.71" stroke="#8a8a8a" stroke-width="0.9"/>
<line x1="560.00" y1="193.71" x2="556.00" y2="193.71" stroke="#8a8a8a" stroke-width="0.9"/>
<line x1="56.70" y1="190.37" x2="62.70" y2="190.37" stroke="#666" stroke-width="0.9"/>
<line x1="560.00" y1="190.37" x2="554.00" y2="190.37" stroke="#666" stroke-width="0.9"/>
<line x1="56.70" y1="168.37" x2="60.70" y2="168.37" stroke="#8a8a8a" stroke-width="0.9"/>
<line x1="560.00" y1="168.37" x2="556.00" y2="168.37" stroke="#8a8a8a" stroke-width="0.9"/>
<line x1="56.70" y1="155.51" x2="60.70" y2="155.51" stroke="#8a8a8a" stroke-width="0.9"/>
<line x1="560.00" y1="155.51" x2="556.00" y2="155.51" stroke="#8a8a8a" stroke-width="0.9"/>
<line x1="56.70" y1="146.38" x2="60.70" y2="146.38" stroke="#8a8a8a" stroke-width="0.9"/>
<line x1="560.00" y1="146.38" x2="556.00" y2="146.38" stroke="#8a8a8a" stroke-width="0.9"/>
<line x1="56.70" y1="139.30" x2="60.70" y2="139.30" stroke="#8a8a8a" stroke-width="0.9"/>
<line x1="560.00" y1="139.30" x2="556.00" y2="139.30" stroke="#8a8a8a" stroke-width="0.9"/>
<line x1="56.70" y1="133.51" x2="60.70" y2="133.51" stroke="#8a8a8a" stroke-width="0.9"/>
<line x1="560.00" y1="133.51" x2="556.00" y2="133.51" stroke="#8a8a8a" stroke-width="0.9"/>
<line x1="56.70" y1="128.62" x2="60.70" y2="128.62" stroke="#8a8a8a" stroke-width="0.9"/>
<line x1="560.00" y1="128.62" x2="556.00" y2="128.62" stroke="#8a8a8a" stroke-width="0.9"/>
<line x1="56.70" y1="124.38" x2="60.70" y2="124.38" stroke="#8a8a8a" stroke-width="0.9"/>
<line x1="560.00" y1="124.38" x2="556.00" y2="124.38" stroke="#8a8a8a" stroke-width="0.9"/>
<line x1="56.70" y1="120.64" x2="60.70" y2="120.64" stroke="#8a8a8a" stroke-width="0.9"/>
<line x1="560.00" y1="120.64" x2="556.00" y2="120.64" stroke="#8a8a8a" stroke-width="0.9"/>
<line x1="56.70" y1="117.30" x2="62.70" y2="117.30" stroke="#666" stroke-width="0.9"/>
<line x1="560.00" y1="117.30" x2="554.00" y2="117.30" stroke="#666" stroke-width="0.9"/>
<line x1="56.70" y1="95.30" x2="60.70" y2="95.30" stroke="#8a8a8a" stroke-width="0.9"/>
<line x1="560.00" y1="95.30" x2="556.00" y2="95.30" stroke="#8a8a8a" stroke-width="0.9"/>
<line x1="56.70" y1="82.44" x2="60.70" y2="82.44" stroke="#8a8a8a" stroke-width="0.9"/>
<line x1="560.00" y1="82.44" x2="556.00" y2="82.44" stroke="#8a8a8a" stroke-width="0.9"/>
<line x1="56.70" y1="73.31" x2="60.70" y2="73.31" stroke="#8a8a8a" stroke-width="0.9"/>
<line x1="560.00" y1="73.31" x2="556.00" y2="73.31" stroke="#8a8a8a" stroke-width="0.9"/>
<line x1="56.70" y1="66.23" x2="60.70" y2="66.23" stroke="#8a8a8a" stroke-width="0.9"/>
<line x1="560.00" y1="66.23" x2="556.00" y2="66.23" stroke="#8a8a8a" stroke-width="0.9"/>
<line x1="56.70" y1="60.44" x2="60.70" y2="60.44" stroke="#8a8a8a" stroke-width="0.9"/>
<line x1="560.00" y1="60.44" x2="556.00" y2="60.44" stroke="#8a8a8a" stroke-width="0.9"/>
<line x1="56.70" y1="55.55" x2="60.70" y2="55.55" stroke="#8a8a8a" stroke-width="0.9"/>
<line x1="560.00" y1="55.55" x2="556.00" y2="55.55" stroke="#8a8a8a" stroke-width="0.9"/>
<line x1="56.70" y1="51.31" x2="60.70" y2="51.31" stroke="#8a8a8a" stroke-width="0.9"/>
<line x1="560.00" y1="51.31" x2="556.00" y2="51.31" stroke="#8a8a8a" stroke-width="0.9"/>
<line x1="56.70" y1="47.57" x2="60.70" y2="47.57" stroke="#8a8a8a" stroke-width="0.9"/>
<line x1="560.00" y1="47.57" x2="556.00" y2="47.57" stroke="#8a8a8a" stroke-width="0.9"/>
<line x1="56.70" y1="44.23" x2="62.70" y2="44.23" stroke="#666" stroke-width="0.9"/>
<line x1="560.00" y1="44.23" x2="554.00" y2="44.23" stroke="#666" stroke-width="0.9"/>
<line x1="56.70" y1="22.23" x2="60.70" y2="22.23" stroke="#8a8a8a" stroke-width="0.9"/>
<line x1="560.00" y1="22.23" x2="556.00" y2="22.23" stroke="#8a8a8a" stroke-width="0.9"/>
<line x1="56.70" y1="9.37" x2="60.70" y2="9.37" stroke="#8a8a8a" stroke-width="0.9"/>
<line x1="560.00" y1="9.37" x2="556.00" y2="9.37" stroke="#8a8a8a" stroke-width="0.9"/>
<line x1="56.70" y1="0.24" x2="60.70" y2="0.24" stroke="#8a8a8a" stroke-width="0.9"/>
<line x1="560.00" y1="0.24" x2="556.00" y2="0.24" stroke="#8a8a8a" stroke-width="0.9"/>
<rect x="71.9" y="153.4" width="179.1" height="173" fill="#fff" stroke="#000" stroke-width="1.15"/>
<path d="M76.5,163.50 L101.7,163.50" stroke="#00d400" stroke-width="2.2" stroke-dasharray="4.6 4.6"/>
<text x="106.4" y="165.90" font-size="11.5" font-family="Liberation Serif, serif" textLength="96.4" lengthAdjust="spacingAndGlyphs">Theo. STC-OFDM</text>
<path d="M76.5,178.50 L101.7,178.50" stroke="#000" stroke-width="2.2"/>
<text x="106.4" y="180.90" font-size="11.5" font-family="Liberation Serif, serif" textLength="126.4" lengthAdjust="spacingAndGlyphs">Theo. TR-STC-GFDMA</text>
<path d="M76.5,193.50 L101.7,193.50" stroke="#000" stroke-width="1.0" stroke-dasharray="4.6 3.06 0.6 3.06"/>
<text x="106.4" y="195.90" font-size="11.5" font-family="Liberation Serif, serif" textLength="99.8" lengthAdjust="spacingAndGlyphs">Theo. SISO GFDM</text>
<path d="M76.5,209.50 L101.7,209.50" stroke="#46e03c" stroke-width="1.0"/>
<rect x="86.25" y="206.65" width="5.70" height="5.70" fill="none" stroke="#46e03c" stroke-width="1.00"/>
<text x="106.4" y="211.90" font-size="11.5" font-family="Liberation Serif, serif" textLength="118.7" lengthAdjust="spacingAndGlyphs">User 1 - SISO-GFDMA</text>
<path d="M76.5,224.50 L101.7,224.50" stroke="#eb3264" stroke-width="1.0"/>
<path d="M89.10,221.65 L91.24,224.50 L89.10,227.35 L86.96,224.50 Z" fill="none" stroke="#eb3264" stroke-width="1.00"/>
<text x="106.4" y="226.90" font-size="11.5" font-family="Liberation Serif, serif" textLength="118.7" lengthAdjust="spacingAndGlyphs">User 2 - SISO-GFDMA</text>
<path d="M76.5,239.50 L101.7,239.50" stroke="#3c50f0" stroke-width="1.0"/>
<path d="M86.25,239.50 L91.95,239.50 M89.10,236.65 L89.10,242.35" fill="none" stroke="#3c50f0" stroke-width="1.00"/>
<text x="106.4" y="241.90" font-size="11.5" font-family="Liberation Serif, serif" textLength="118.7" lengthAdjust="spacingAndGlyphs">User 3 - SISO-GFDMA</text>
<path d="M76.5,254.50 L101.7,254.50" stroke="#2846f5" stroke-width="1.0"/>
<path d="M87.08,252.48 L91.12,256.52 M87.08,256.52 L91.12,252.48" stroke-linecap="round" fill="none" stroke="#2846f5" stroke-width="1.00"/>
<text x="106.4" y="256.90" font-size="11.5" font-family="Liberation Serif, serif" textLength="137.1" lengthAdjust="spacingAndGlyphs">User 4 - TR-STC-GFDMA</text>
<path d="M76.5,270.50 L101.7,270.50" stroke="#c83c6e" stroke-width="1.0"/>
<path d="M89.10,267.65 L91.57,271.93 L86.63,271.93 Z" fill="none" stroke="#c83c6e" stroke-width="1.00"/>
<text x="106.4" y="272.90" font-size="11.5" font-family="Liberation Serif, serif" textLength="137.1" lengthAdjust="spacingAndGlyphs">User 5 - TR-STC-GFDMA</text>
<path d="M76.5,285.50 L101.7,285.50" stroke="#7896ff" stroke-width="1.0"/>
<path d="M89.10,288.35 L91.57,284.07 L86.63,284.07 Z" fill="none" stroke="#7896ff" stroke-width="1.00"/>
<text x="106.4" y="287.90" font-size="11.5" font-family="Liberation Serif, serif" textLength="137.1" lengthAdjust="spacingAndGlyphs">User 6 - TR-STC-GFDMA</text>
<path d="M76.5,300.50 L101.7,300.50" stroke="#aa3cfa" stroke-width="1.0"/>
<path d="M89.10,300.50 L89.10,297.65 M89.10,300.50 L91.81,299.62 M89.10,300.50 L90.78,302.81 M89.10,300.50 L87.42,302.81 M89.10,300.50 L86.39,299.62 " fill="none" stroke="#aa3cfa" stroke-width="1.00"/>
<text x="106.4" y="302.90" font-size="11.5" font-family="Liberation Serif, serif" textLength="137.1" lengthAdjust="spacingAndGlyphs">User 7 - TR-STC-GFDMA</text>
<path d="M76.5,315.50 L101.7,315.50" stroke="#46eb46" stroke-width="1.0"/>
<path d="M89.10,312.65 L91.81,314.62 L90.78,317.81 L87.42,317.81 L86.39,314.62 Z" fill="none" stroke="#46eb46" stroke-width="1.00"/>
<text x="106.4" y="317.90" font-size="11.5" font-family="Liberation Serif, serif" textLength="137.1" lengthAdjust="spacingAndGlyphs">User 8 - TR-STC-GFDMA</text>
<clipPath id="c1"><circle cx="409.40" cy="43.90" r="42.20"/></clipPath>
<g clip-path="url(#c1)"><g transform="translate(-1448.500,-324.920) scale(6.000)"><use href="#content_inset"/></g></g>
<circle cx="409.40" cy="43.90" r="42.20" fill="none" stroke="#666" stroke-width="1.2"/>
<circle cx="309.65" cy="61.47" r="7.03" fill="none" stroke="#666" stroke-width="0.9"/>
<line x1="316.57" y1="60.25" x2="367.84" y2="51.22" stroke="#666" stroke-width="0.9"/>
<clipPath id="c2"><circle cx="359.35" cy="263.40" r="42.20"/></clipPath>
<g clip-path="url(#c2)"><g transform="translate(-1497.470,-605.880) scale(6.000)"><use href="#content_inset"/></g></g>
<circle cx="359.35" cy="263.40" r="42.20" fill="none" stroke="#666" stroke-width="1.2"/>
<circle cx="309.47" cy="144.88" r="7.03" fill="none" stroke="#666" stroke-width="0.9"/>
<line x1="312.20" y1="151.36" x2="342.98" y2="224.50" stroke="#666" stroke-width="0.9"/>
<text x="56.70" y="351.6" font-size="15" text-anchor="middle" font-family="Liberation Serif, serif">10</text>
<text x="107.03" y="351.6" font-size="15" text-anchor="middle" font-family="Liberation Serif, serif">12</text>
<text x="157.36" y="351.6" font-size="15" text-anchor="middle" font-family="Liberation Serif, serif">14</text>
<text x="207.69" y="351.6" font-size="15" text-anchor="middle" font-family="Liberation Serif, serif">16</text>
<text x="258.02" y="351.6" font-size="15" text-anchor="middle" font-family="Liberation Serif, serif">18</text>
<text x="308.35" y="351.6" font-size="15" text-anchor="middle" font-family="Liberation Serif, serif">20</text>
<text x="358.68" y="351.6" font-size="15" text-anchor="middle" font-family="Liberation Serif, serif">22</text>
<text x="409.01" y="351.6" font-size="15" text-anchor="middle" font-family="Liberation Serif, serif">24</text>
<text x="459.34" y="351.6" font-size="15" text-anchor="middle" font-family="Liberation Serif, serif">26</text>
<text x="509.67" y="351.6" font-size="15" text-anchor="middle" font-family="Liberation Serif, serif">28</text>
<text x="560.00" y="351.6" font-size="15" text-anchor="middle" font-family="Liberation Serif, serif">30</text>
<text x="35.2" y="50.73" font-size="15" text-anchor="end" font-family="Liberation Serif, serif">10</text>
<text x="35.8" y="45.63" font-size="11" font-family="Liberation Serif, serif" textLength="7.6" lengthAdjust="spacingAndGlyphs">&#8722;</text>
<text x="44.6" y="45.63" font-size="11" font-family="Liberation Serif, serif">1</text>
<text x="35.2" y="123.80" font-size="15" text-anchor="end" font-family="Liberation Serif, serif">10</text>
<text x="35.8" y="118.70" font-size="11" font-family="Liberation Serif, serif" textLength="7.6" lengthAdjust="spacingAndGlyphs">&#8722;</text>
<text x="44.6" y="118.70" font-size="11" font-family="Liberation Serif, serif">2</text>
<text x="35.2" y="196.87" font-size="15" text-anchor="end" font-family="Liberation Serif, serif">10</text>
<text x="35.8" y="191.77" font-size="11" font-family="Liberation Serif, serif" textLength="7.6" lengthAdjust="spacingAndGlyphs">&#8722;</text>
<text x="44.6" y="191.77" font-size="11" font-family="Liberation Serif, serif">3</text>
<text x="35.2" y="269.94" font-size="15" text-anchor="end" font-family="Liberation Serif, serif">10</text>
<text x="35.8" y="264.84" font-size="11" font-family="Liberation Serif, serif" textLength="7.6" lengthAdjust="spacingAndGlyphs">&#8722;</text>
<text x="44.6" y="264.84" font-size="11" font-family="Liberation Serif, serif">4</text>
<text x="35.2" y="343.01" font-size="15" text-anchor="end" font-family="Liberation Serif, serif">10</text>
<text x="35.8" y="337.91" font-size="11" font-family="Liberation Serif, serif" textLength="7.6" lengthAdjust="spacingAndGlyphs">&#8722;</text>
<text x="44.6" y="337.91" font-size="11" font-family="Liberation Serif, serif">5</text>
<text x="294.2" y="371.2" font-size="15" font-family="Liberation Serif, serif" textLength="28.6" lengthAdjust="spacingAndGlyphs">SNR</text>
<text transform="translate(10.6,168.2) rotate(-90)" x="-14.3" y="0" font-size="15.3" font-family="Liberation Serif, serif" textLength="28.6" lengthAdjust="spacingAndGlyphs">SER</text>
</svg>
</body></html>
